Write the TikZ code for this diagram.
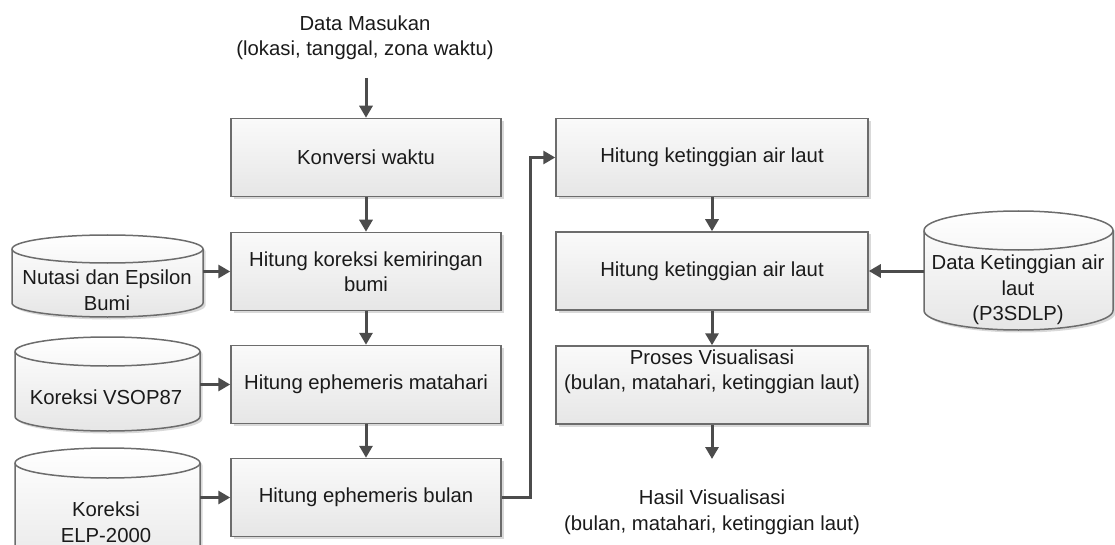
\documentclass[tikz,border=0pt]{standalone}
\usepackage{fontspec}
\setmainfont{Liberation Sans}
\usetikzlibrary{arrows.meta,shadows,calc}

\definecolor{edgegray}{HTML}{6C6C6C}
\definecolor{flowgray}{HTML}{4C4C4C}
\definecolor{inkgray}{HTML}{1A1A1A}
\definecolor{shadegray}{HTML}{E6E6E6}

\newcommand\diagfont{\fontsize{20.3}{25.5}\selectfont}

% database drum: name, left x, right x, top y, bottom y, cap radius
\newcommand\dbdrum[6]{%
  \pgfmathsetmacro\dbrx{(#3-#2)/2}%
  \pgfmathsetmacro\dbya{#4+#6}%
  \pgfmathsetmacro\dbyb{#5-#6}%
  \path[drumbody] (#2,\dbya) -- (#2,\dbyb)
    arc[start angle=180,end angle=360,x radius=\dbrx pt,y radius=#6 pt]
    -- (#3,\dbya)
    arc[start angle=0,end angle=180,x radius=\dbrx pt,y radius=#6 pt] -- cycle;
  \draw[drumrim] (#2,\dbya)
    arc[start angle=180,end angle=360,x radius=\dbrx pt,y radius=#6 pt];
}

\tikzset{
  procbox/.style={draw=edgegray, line width=1.5pt,
    top color=white!98!black, bottom color=shadegray,
    minimum height=78pt, inner sep=0pt, align=center,
    font=\diagfont, text=inkgray,
    drop shadow={shadow xshift=2.5pt, shadow yshift=-2.5pt,
      fill=black, opacity=0.15}},
  leftbox/.style={procbox, minimum width=270pt},
  rightbox/.style={procbox, minimum width=312pt},
  drumbody/.style={draw=edgegray, line width=1.5pt,
    top color=white, bottom color=shadegray,
    drop shadow={shadow xshift=2.5pt, shadow yshift=-2.5pt,
      fill=black, opacity=0.15}},
  drumrim/.style={draw=edgegray, line width=1.5pt},
  plaintext/.style={align=center, font=\diagfont, text=inkgray, inner sep=0pt},
  flow/.style={draw=flowgray, line width=3pt,
    -{Triangle[length=12pt,width=13pt]}},
}

\begin{document}
\begin{tikzpicture}[x=1pt, y=-1pt]
  \useasboundingbox (0,0) rectangle (1115,545);
  \clip (0,0) rectangle (1115,545);

  % input and output labels
  \node[plaintext] (din) at (365,38) {Data Masukan\\(lokasi, tanggal, zona waktu)};
  \coordinate (din-out) at (366,78);
  \node[plaintext] (hasil) at (712,512) {Hasil Visualisasi\\(bulan, matahari, ketinggian laut)};
  \coordinate (hasil-in) at (712,459);

  % left processing column
  \node[leftbox] (konv) at (366,157.5) {Konversi waktu};
  \node[leftbox] (kor)  at (366,271.5) {Hitung koreksi kemiringan\\bumi};
  \node[leftbox] (mat)  at (366,384.5) {Hitung ephemeris matahari};
  \node[leftbox] (bul)  at (366,497.5) {Hitung ephemeris bulan};

  % right processing column
  \node[rightbox] (hk1) at (712,157.5) {Hitung ketinggian air laut};
  \node[rightbox] (hk2) at (712,271)   {Hitung ketinggian air laut};
  \node[rightbox] (vis) at (712,385)   {};
  \node[plaintext, anchor=north] (vis-txt) at ([yshift=-4pt]vis.north)
    {Proses Visualisasi\\(bulan, matahari, ketinggian laut)};

  % data sources
  \dbdrum{nut}{12}{203}{235}{317}{14}
  \node[plaintext] (nut) at (107,290) {Nutasi dan Epsilon\\Bumi};
  \coordinate (nut-e) at (203,271.5);

  \dbdrum{vsop}{15}{200}{337}{431}{14.5}
  \node[plaintext] (vsop) at (106,397) {Koreksi VSOP87};
  \coordinate (vsop-e) at (200,384.5);

  \dbdrum{elp}{15}{200}{448}{580}{15}
  \node[plaintext] (elp) at (106,522) {Koreksi\\ELP-2000};
  \coordinate (elp-e) at (200,497.5);

  \dbdrum{p3}{924}{1113}{211}{330}{19.5}
  \node[plaintext] (p3) at (1018,290) {Data Ketinggian air\\laut\\(P3SDLP)};
  \coordinate (p3-w) at (924,271);

  % connectors
  \draw[flow] (din-out) -- (konv);
  \draw[flow] (konv) -- (kor);
  \draw[flow] (kor) -- (mat);
  \draw[flow] (mat) -- (bul);
  \draw[flow] (nut-e) -- (kor);
  \draw[flow] (vsop-e) -- (mat);
  \draw[flow] (elp-e) -- (bul);
  \coordinate (jog) at (530,0);
  \draw[flow] (bul.east) -- (bul.east -| jog) -- (jog |- hk1.west) -- (hk1.west);
  \draw[flow] (hk1) -- (hk2);
  \draw[flow] (p3-w) -- (hk2);
  \draw[flow] (hk2) -- (vis);
  \draw[flow] (vis) -- (hasil-in);
\end{tikzpicture}
\end{document}
